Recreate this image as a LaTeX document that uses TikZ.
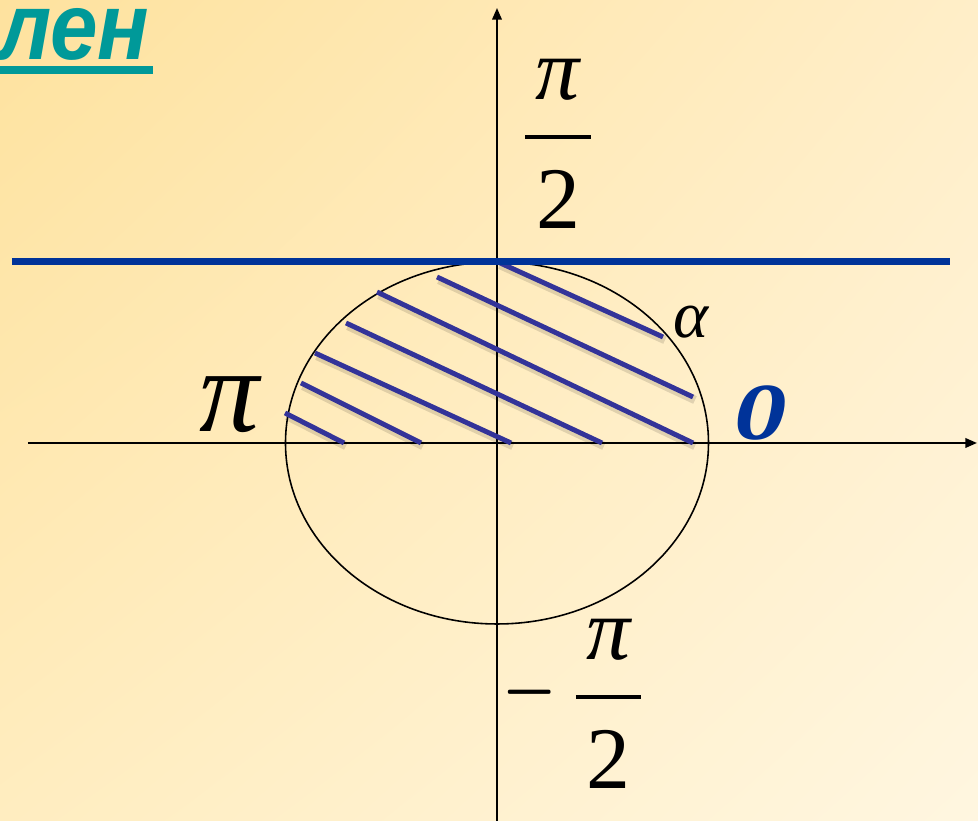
\documentclass[tikz,border=0pt]{standalone}
\usepackage{amsmath}
\usepackage{fontspec}
\setmainfont{Liberation Serif}
\newfontfamily\headfont{Liberation Sans}
\usetikzlibrary{arrows.meta,shadings}

\definecolor{lineblue}{RGB}{0,51,153}
\definecolor{hatchblue}{RGB}{51,51,153}
\definecolor{headteal}{RGB}{0,153,153}
\definecolor{bgtl}{RGB}{254,226,158}
\definecolor{bgtr}{RGB}{255,238,200}
\definecolor{bgbl}{RGB}{255,237,192}
\definecolor{bgbr}{RGB}{255,246,224}

\begin{document}
\begin{tikzpicture}[
    axisarrow/.style={-{Triangle[length=3.3pt,width=2.7pt]}, line width=0.55pt},
    hatch/.style={hatchblue, line width=1.4pt},
    hatchshade/.style={black, opacity=0.12, line width=2.4pt},
    fraclabel/.style={anchor=base, inner sep=0pt, font=\fontsize{25}{30}\selectfont}
]
        % Background
        \useasboundingbox (-4.97,-3.78) rectangle (4.81,4.43);
        \shade[upper left=bgtl, upper right=bgtr, lower left=bgbl, lower right=bgbr]
            (-4.97,-3.78) rectangle (4.81,4.43);

        % Heading at the top left
        \node[anchor=base east, inner sep=0pt, text=headteal,
              font=\headfont\bfseries\itshape\fontsize{27}{32}\selectfont] (heading) at (-3.47,3.83) {\scalebox{0.9}[1]{лен}};
        \draw[headteal, line width=2.3pt] (-4.97,3.73) -- ([xshift=0.03cm,yshift=-0.10cm]heading.base east);

        % Draw axes
        \coordinate (xstart) at (-4.69,0);
        \coordinate (xend) at (4.80,0);
        \coordinate (ystart) at (0,-3.78);
        \coordinate (yend) at (0,4.35);
        \draw[axisarrow] (xstart) -- (xend);
        \draw[axisarrow] (ystart) -- (yend);

        % Draw circle
        \draw[line width=0.45pt] (0,0) ellipse [x radius=2.115cm, y radius=1.81cm];

        % Hatch the upper half
        \foreach \xa/\ya/\xb/\yb in {-2.12/0.30/-1.53/0, -1.96/0.60/-0.76/0, -1.82/0.90/0.14/0,
                                     -1.51/1.20/1.05/0, -1.20/1.51/1.96/0, -0.60/1.66/1.96/0.46,
                                     0.01/1.81/1.66/1.06} {
            \draw[hatchshade] ([shift={(0.02,-0.03)}]\xa,\ya) -- ([shift={(0.02,-0.03)}]\xb,\yb);
            \draw[hatch] (\xa,\ya) -- (\xb,\yb);
        }

        % Tangent line at pi/2
        \draw[lineblue, line width=2pt] (-4.85,1.81) -- (4.53,1.81);

        % Mark points of the circle
        \node[fraclabel] (halfpi) at (0.61,2.84)
            {$\dfrac{\text{\itshape π}}{\hspace{0.12em}\rule{0pt}{0.9em}\text{2}\hspace{0.12em}}$};
        \node[fraclabel] (neghalfpi) at (0.77,-2.76)
            {$\scalebox{0.8}[1.2]{$-$}\mkern3mu\dfrac{\text{\itshape π}}{\hspace{0.12em}\rule{0pt}{0.9em}\text{2}\hspace{0.12em}}$};
        \node[anchor=base, inner sep=0pt, font=\fontsize{34}{40}\selectfont\itshape] (pilabel) at (-2.675,0.11) {π};
        \node[anchor=base, inner sep=0pt, font=\fontsize{19}{23}\selectfont\itshape] (alphalabel) at (1.94,1.05) {α};
        \node[anchor=base, inner sep=0pt, text=lineblue, font=\bfseries\itshape\fontsize{23}{27}\selectfont] (zerolabel) at (2.64,0.03) {\scalebox{1.3}[1]{0}};
    \end{tikzpicture}
\end{document}
